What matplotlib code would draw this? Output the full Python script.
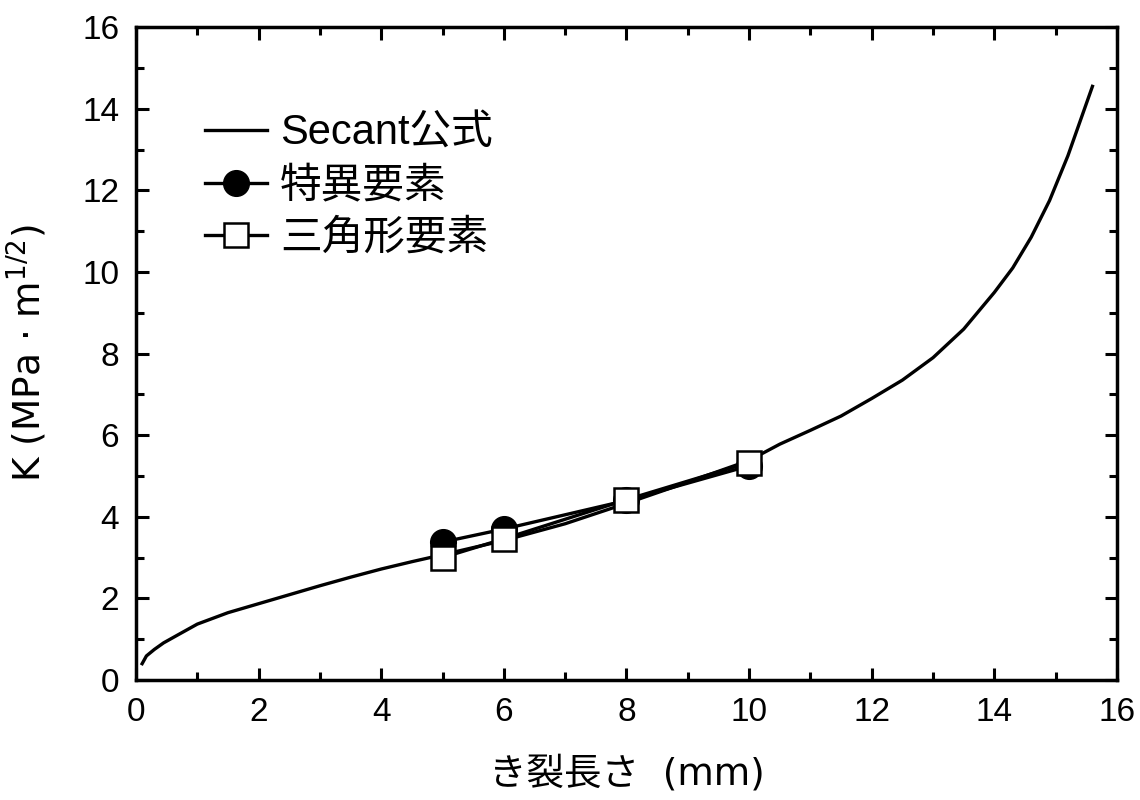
import matplotlib
matplotlib.use("Agg")
import matplotlib.pyplot as plt
from matplotlib.ticker import MultipleLocator

plt.rcParams['font.family'] = ['Liberation Sans', 'Noto Sans CJK JP', 'DejaVu Sans']
plt.rcParams['mathtext.fontset'] = 'dejavusans'

# Secant formula curve
secant_a = [0.1, 0.17, 0.3, 0.45, 0.7, 1.0, 1.5, 2, 2.5, 3, 3.5, 4, 4.5, 5, 6, 7, 8, 9, 10,
            10.5, 11, 11.5, 12, 12.5, 13, 13.5, 14, 14.3, 14.6, 14.9, 15.2, 15.4, 15.6]
secant_k = [0.4, 0.59, 0.75, 0.91, 1.12, 1.37, 1.65, 1.87, 2.09, 2.31, 2.52, 2.72, 2.9, 3.07,
            3.42, 3.83, 4.33, 4.85, 5.38, 5.78, 6.12, 6.47, 6.9, 7.35, 7.9, 8.6, 9.5,
            10.1, 10.85, 11.75, 12.85, 13.7, 14.55]

# singular element
sing_a = [5, 6, 8, 10]
sing_k = [3.38, 3.7, 4.4, 5.25]

# triangle element
tri_a = [5, 6, 8, 10]
tri_k = [3.0, 3.46, 4.42, 5.33]

labels = ['Secant公式', '特異要素', '三角形要素']

fig = plt.figure(figsize=(11.4, 8), dpi=100)
ax = fig.add_axes([0.1193, 0.15, 0.8605, 0.816])

ax.plot(secant_a, secant_k, color='black', lw=2.4, label=labels[0])
ax.plot(sing_a, sing_k, color='black', lw=2.4, marker='o', ms=18.5,
        mfc='black', mec='black', label=labels[1])
ax.plot(tri_a, tri_k, color='black', lw=2.4, marker='s', ms=17,
        mfc='white', mec='black', mew=1.8, label=labels[2])

ax.set_xlim(0, 16)
ax.set_ylim(0, 16)
ax.xaxis.set_major_locator(MultipleLocator(2))
ax.xaxis.set_minor_locator(MultipleLocator(1))
ax.yaxis.set_major_locator(MultipleLocator(2))
ax.yaxis.set_minor_locator(MultipleLocator(1))
ax.tick_params(which='both', direction='in', top=True, right=True, width=2.2)
ax.tick_params(which='major', length=9, labelsize=24, pad=12)
ax.tick_params(which='minor', length=6)
for s in ax.spines.values():
    s.set_linewidth(2.5)

ax.set_xlabel('き裂長さ  (mm)', fontsize=27, labelpad=20,
              family=['DejaVu Sans', 'Noto Sans CJK JP'])
ax.set_ylabel(r'K (MPa · m$^{1/2}$)', fontsize=27, labelpad=24,
              family=['DejaVu Sans', 'Noto Sans CJK JP'])

ax.legend(loc='upper left', bbox_to_anchor=(0.032, 0.925), frameon=False,
          fontsize=30, handlelength=1.5, handletextpad=0.3, labelspacing=0.3)

fig.savefig('out.png', dpi=100)
